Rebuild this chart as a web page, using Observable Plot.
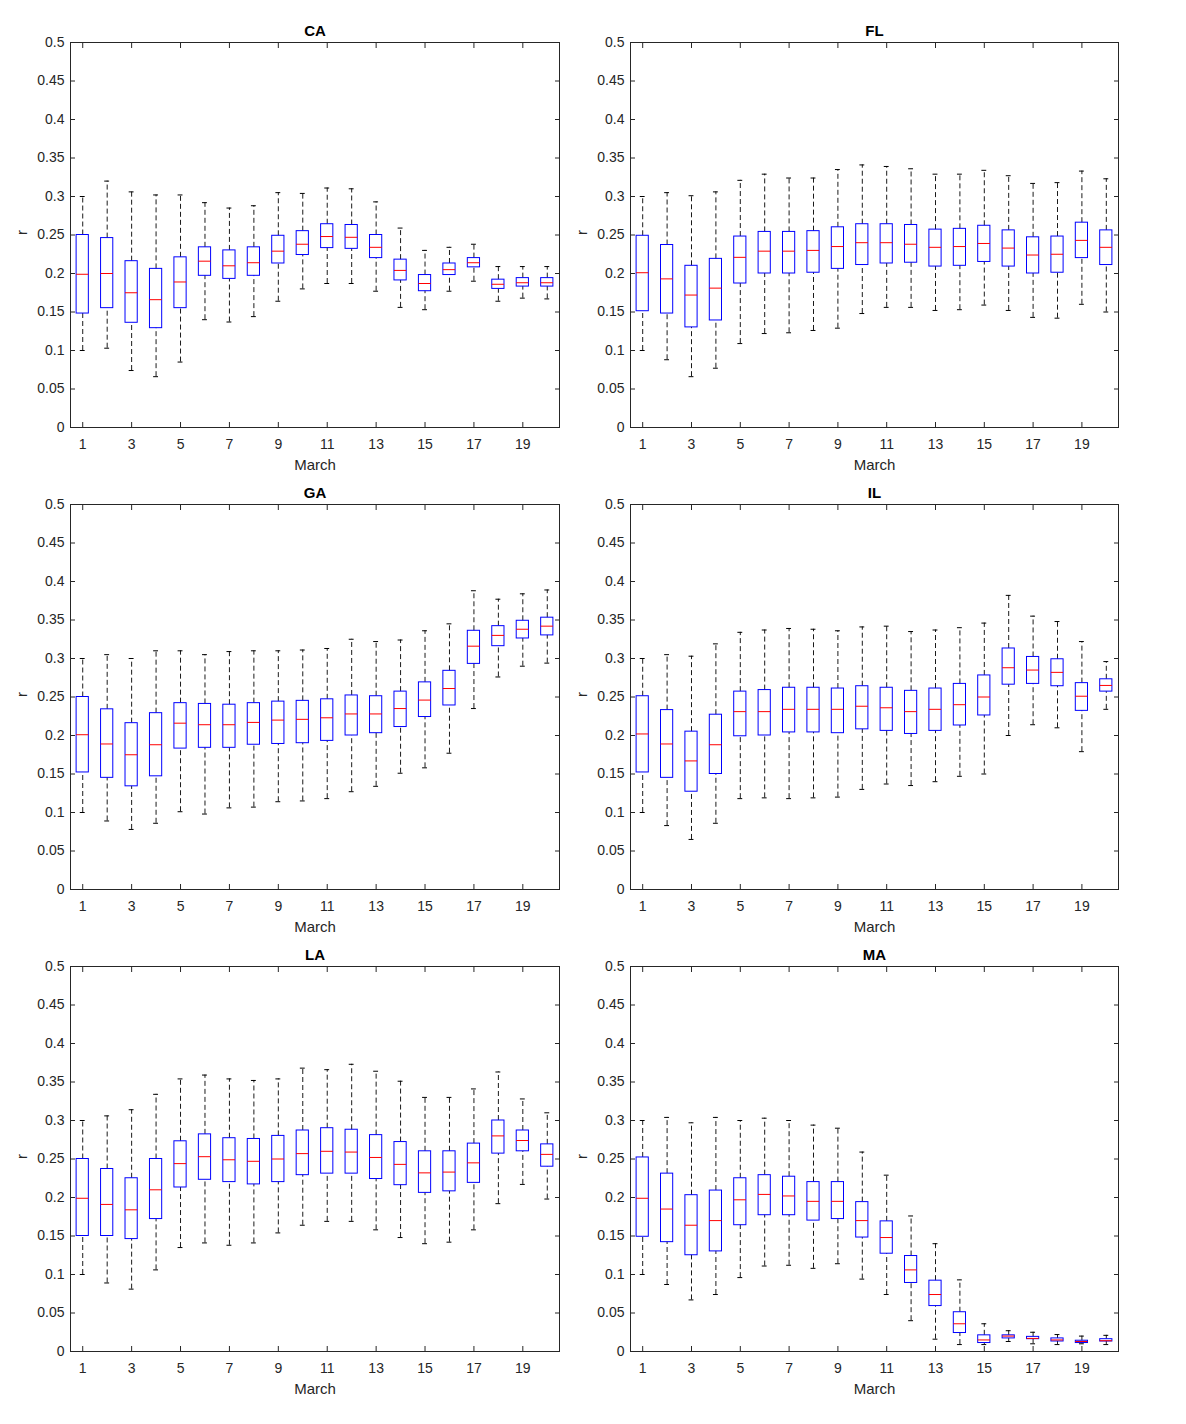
<!DOCTYPE html>
<html><head><meta charset="utf-8">
<script src="https://cdn.jsdelivr.net/npm/d3@7"></script>
<script src="https://cdn.jsdelivr.net/npm/@observablehq/plot@0.6"></script>
<style>
body{margin:0;background:#fff;}
#wrap{position:relative;width:1186px;height:1424px;font-family:"Liberation Sans",Arial,sans-serif;}
#wrap svg{position:absolute;overflow:visible;}
</style></head><body><div id="wrap"></div>
<script>
const days = [1,2,3,4,5,6,7,8,9,10,11,12,13,14,15,16,17,18,19,20];
const xTicks = [1,3,5,7,9,11,13,15,17,19];
const yTicks = [0,0.05,0.1,0.15,0.2,0.25,0.3,0.35,0.4,0.45,0.5];
const xLabel = "March";
const yLabel = "r";

const CA_hi  = [0.300,0.320,0.306,0.302,0.302,0.292,0.285,0.288,0.305,0.304,0.311,0.310,0.293,0.259,0.230,0.234,0.238,0.209,0.209,0.209];
const CA_q3  = [0.250,0.246,0.216,0.206,0.221,0.234,0.230,0.234,0.249,0.255,0.264,0.263,0.250,0.218,0.198,0.213,0.220,0.192,0.194,0.194];
const CA_med = [0.199,0.200,0.175,0.166,0.189,0.216,0.210,0.214,0.229,0.238,0.248,0.247,0.234,0.204,0.187,0.205,0.214,0.186,0.188,0.188];
const CA_q1  = [0.148,0.155,0.136,0.129,0.155,0.197,0.193,0.197,0.213,0.224,0.233,0.232,0.220,0.191,0.177,0.198,0.208,0.180,0.183,0.183];
const CA_lo  = [0.100,0.103,0.074,0.066,0.085,0.140,0.137,0.144,0.164,0.180,0.187,0.187,0.177,0.156,0.153,0.177,0.190,0.164,0.168,0.167];

const FL_hi  = [0.300,0.305,0.301,0.306,0.321,0.329,0.324,0.324,0.335,0.341,0.339,0.336,0.329,0.329,0.334,0.327,0.317,0.318,0.333,0.323];
const FL_q3  = [0.249,0.237,0.210,0.219,0.248,0.254,0.254,0.255,0.260,0.264,0.264,0.263,0.257,0.258,0.262,0.256,0.247,0.248,0.266,0.256];
const FL_med = [0.201,0.193,0.172,0.181,0.221,0.229,0.229,0.230,0.235,0.240,0.240,0.238,0.234,0.235,0.239,0.233,0.224,0.225,0.243,0.234];
const FL_q1  = [0.151,0.148,0.130,0.139,0.187,0.200,0.200,0.201,0.206,0.211,0.213,0.214,0.209,0.210,0.215,0.209,0.200,0.201,0.220,0.211];
const FL_lo  = [0.100,0.088,0.066,0.077,0.109,0.122,0.123,0.126,0.129,0.148,0.156,0.156,0.152,0.153,0.159,0.152,0.143,0.142,0.160,0.150];

const GA_hi  = [0.300,0.305,0.300,0.310,0.310,0.305,0.309,0.310,0.310,0.311,0.313,0.325,0.322,0.324,0.336,0.345,0.388,0.377,0.384,0.389];
const GA_q3  = [0.250,0.234,0.216,0.229,0.242,0.241,0.240,0.242,0.244,0.245,0.247,0.252,0.251,0.257,0.269,0.284,0.336,0.342,0.349,0.353];
const GA_med = [0.201,0.189,0.175,0.188,0.216,0.214,0.214,0.217,0.220,0.221,0.223,0.228,0.228,0.235,0.246,0.261,0.316,0.330,0.338,0.342];
const GA_q1  = [0.152,0.145,0.134,0.147,0.183,0.184,0.184,0.188,0.189,0.190,0.193,0.200,0.203,0.211,0.224,0.239,0.293,0.316,0.326,0.330];
const GA_lo  = [0.100,0.089,0.078,0.086,0.101,0.098,0.106,0.107,0.114,0.115,0.118,0.127,0.134,0.151,0.158,0.177,0.235,0.276,0.290,0.294];

const IL_hi  = [0.300,0.305,0.303,0.319,0.334,0.337,0.339,0.338,0.336,0.341,0.342,0.335,0.337,0.340,0.346,0.382,0.355,0.348,0.322,0.296];
const IL_q3  = [0.251,0.233,0.205,0.227,0.257,0.259,0.262,0.262,0.261,0.264,0.262,0.258,0.261,0.267,0.278,0.313,0.302,0.299,0.268,0.273];
const IL_med = [0.202,0.189,0.167,0.188,0.231,0.231,0.234,0.234,0.234,0.238,0.236,0.231,0.234,0.240,0.250,0.288,0.285,0.282,0.251,0.265];
const IL_q1  = [0.152,0.145,0.127,0.150,0.199,0.200,0.204,0.204,0.203,0.208,0.206,0.202,0.206,0.213,0.226,0.266,0.267,0.264,0.232,0.257];
const IL_lo  = [0.100,0.083,0.065,0.086,0.118,0.119,0.118,0.119,0.120,0.130,0.137,0.135,0.140,0.147,0.150,0.200,0.214,0.210,0.179,0.234];

const LA_hi  = [0.300,0.306,0.314,0.334,0.354,0.359,0.354,0.352,0.354,0.368,0.366,0.373,0.364,0.351,0.330,0.330,0.341,0.363,0.328,0.310];
const LA_q3  = [0.250,0.237,0.225,0.250,0.273,0.282,0.277,0.276,0.280,0.287,0.290,0.288,0.281,0.272,0.260,0.260,0.270,0.300,0.287,0.269];
const LA_med = [0.199,0.191,0.184,0.210,0.244,0.253,0.249,0.247,0.250,0.257,0.260,0.259,0.252,0.243,0.232,0.233,0.245,0.280,0.274,0.256];
const LA_q1  = [0.150,0.150,0.146,0.172,0.213,0.223,0.220,0.217,0.220,0.229,0.231,0.231,0.224,0.216,0.206,0.208,0.219,0.257,0.260,0.240];
const LA_lo  = [0.100,0.089,0.081,0.106,0.135,0.141,0.138,0.141,0.154,0.164,0.169,0.169,0.158,0.148,0.140,0.142,0.158,0.192,0.217,0.198];

const MA_hi  = [0.300,0.304,0.297,0.304,0.300,0.303,0.300,0.294,0.290,0.259,0.229,0.176,0.140,0.093,0.036,0.027,0.025,0.022,0.020,0.021];
const MA_q3  = [0.252,0.231,0.203,0.209,0.225,0.229,0.227,0.220,0.220,0.194,0.169,0.124,0.092,0.051,0.021,0.021,0.019,0.017,0.014,0.016];
const MA_med = [0.199,0.185,0.164,0.170,0.197,0.204,0.202,0.195,0.195,0.170,0.148,0.106,0.074,0.036,0.015,0.020,0.017,0.015,0.013,0.014];
const MA_q1  = [0.149,0.142,0.125,0.130,0.164,0.177,0.177,0.170,0.172,0.148,0.127,0.089,0.059,0.024,0.011,0.017,0.016,0.013,0.011,0.013];
const MA_lo  = [0.100,0.087,0.067,0.074,0.096,0.111,0.112,0.108,0.114,0.094,0.074,0.040,0.016,0.009,0.009,0.013,0.010,0.009,0.010,0.009];

const panels = [
  {name:"CA", hi:CA_hi, q3:CA_q3, med:CA_med, q1:CA_q1, lo:CA_lo},
  {name:"FL", hi:FL_hi, q3:FL_q3, med:FL_med, q1:FL_q1, lo:FL_lo},
  {name:"GA", hi:GA_hi, q3:GA_q3, med:GA_med, q1:GA_q1, lo:GA_lo},
  {name:"IL", hi:IL_hi, q3:IL_q3, med:IL_med, q1:IL_q1, lo:IL_lo},
  {name:"LA", hi:LA_hi, q3:LA_q3, med:LA_med, q1:LA_q1, lo:LA_lo},
  {name:"MA", hi:MA_hi, q3:MA_q3, med:MA_med, q1:MA_q1, lo:MA_lo}
];

const axisColor = "#262626";
const wrap = document.getElementById("wrap");

panels.forEach((p, k) => {
  const col = k % 2, row = Math.floor(k / 2);
  const rows = days.map((d, i) => ({day: d, hi: p.hi[i], q3: p.q3[i], med: p.med[i], q1: p.q1[i], lo: p.lo[i]}));
  const width = col === 0 ? 593 : 626;
  const marginRight = col === 0 ? 34 : 68;
  const svg = Plot.plot({
    width, height: 480,
    marginLeft: 70, marginRight, marginTop: 42, marginBottom: 53,
    style: {fontFamily: "'Liberation Sans', Arial, sans-serif", fontSize: "14px", color: axisColor, background: "transparent", overflow: "visible"},
    x: {domain: [0.5, 20.5], axis: null},
    y: {domain: [0, 0.5], axis: null},
    marks: [
      Plot.ruleX(rows, {x: "day", y1: "q3", y2: "hi", stroke: "#000", strokeWidth: 0.9, strokeDasharray: "5,3"}),
      Plot.ruleX(rows, {x: "day", y1: "lo", y2: "q1", stroke: "#000", strokeWidth: 0.9, strokeDasharray: "5,3"}),
      Plot.ruleY(rows, {y: "hi", x1: d => d.day - 0.1, x2: d => d.day + 0.1, stroke: "#000", strokeWidth: 1}),
      Plot.ruleY(rows, {y: "lo", x1: d => d.day - 0.1, x2: d => d.day + 0.1, stroke: "#000", strokeWidth: 1}),
      Plot.rect(rows, {x1: d => d.day - 0.25, x2: d => d.day + 0.25, y1: "q1", y2: "q3", fill: "none", stroke: "#0000ff", strokeWidth: 1}),
      Plot.ruleY(rows, {y: "med", x1: d => d.day - 0.25, x2: d => d.day + 0.25, stroke: "#ff0000", strokeWidth: 1}),
      Plot.frame({stroke: axisColor, strokeWidth: 1}),
      Plot.axisX({ticks: xTicks, anchor: "bottom", tickSize: -5, fill: "none", stroke: axisColor, label: null}),
      Plot.axisX({ticks: xTicks, anchor: "top", tickSize: -5, fill: "none", stroke: axisColor, label: null}),
      Plot.axisY({ticks: yTicks, anchor: "left", tickSize: -5, fill: "none", stroke: axisColor, label: null}),
      Plot.axisY({ticks: yTicks, anchor: "right", tickSize: -5, fill: "none", stroke: axisColor, label: null}),
      Plot.axisX({ticks: xTicks, anchor: "bottom", tickSize: 0, tickPadding: 12, fill: axisColor, label: null, fontSize: 14, tickFormat: d => String(d)}),
      Plot.axisY({ticks: yTicks, anchor: "left", tickSize: 0, tickPadding: 6, fill: axisColor, label: null, fontSize: 14, tickFormat: d => String(+d.toFixed(2))}),
      Plot.text([p.name], {text: d => d, frameAnchor: "top", lineAnchor: "middle", dy: -11, fontWeight: "bold", fontSize: 15, fill: "#000"}),
      Plot.text([xLabel], {text: d => d, frameAnchor: "bottom", lineAnchor: "middle", dy: 38, fontSize: 15, fill: axisColor}),
      Plot.text([yLabel], {text: d => d, frameAnchor: "left", lineAnchor: "middle", dx: -48, rotate: -90, fontSize: 15, fill: axisColor})
    ]
  });
  svg.style.left = (col === 0 ? 0 : 560) + "px";
  svg.style.top = (row * 462) + "px";
  wrap.appendChild(svg);
});
</script></body></html>
